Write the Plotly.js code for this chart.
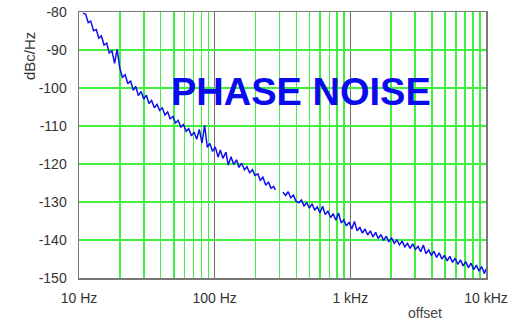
<!DOCTYPE html>
<html>
<head>
<meta charset="utf-8">
<script src="https://cdn.plot.ly/plotly-3.0.1.min.js"></script>
<style>html,body{margin:0;padding:0;background:#fff;}#chart{width:509px;height:322px;}</style>
</head>
<body>
<div id="chart"></div>
<script>
// Offset frequency (Hz); null marks the gap in the trace
const freqHz = [
  10.7, 11.2, 11.7, 12.2, 12.8, 13.4, 14.0, 14.6, 15.3, 16.0, 16.7, 17.5, 18.3, 19.1, 20.0, 20.9, 21.9, 22.9, 24.0, 25.1,
  26.2, 27.4, 28.7, 30.0, 31.4, 32.8, 34.3, 35.9, 37.6, 39.3, 41.1, 43.0, 45.0, 47.0, 49.2, 51.5, 53.8, 56.3, 58.9, 61.6,
  64.4, 67.4, 70.5, 73.7, 77.1, 80.6, 84.3, 88.2, 92.2, 96.5, 101, 106, 110, 115, 121, 126, 132, 138, 145, 151,
  158, 166, 173, 181, 190, 198, 208, 217, 227, 238, 249, 260, 272, 280,
  300,
  318, 333, 348, 364, 381, 398, 417, 436, 456, 477, 499, 522, 546, 571, 597, 625, 653, 683, 715, 748,
  782, 818, 856, 895, 936, 980, 1025, 1072, 1121, 1173, 1227, 1283, 1342, 1404, 1469, 1536, 1607, 1681, 1758, 1839,
  1924, 2012, 2105, 2202, 2303, 2409, 2520, 2636, 2757, 2884, 3017, 3156, 3301, 3453, 3612, 3778, 3952, 4134, 4324, 4523,
  4731, 4949, 5177, 5415, 5664, 5925, 6198, 6483, 6781, 7093, 7420, 7761, 8118, 8492, 8883, 9292, 9720, 10000
];
// Phase noise (dBc/Hz)
const noiseDb = [
  -80.3, -80.6, -82.8, -82.4, -84.9, -84.6, -86.9, -86.3, -88.7, -88.2, -90.8, -90.2, -93.5, -89.8, -94.8, -97.2, -96.5, -98.9, -98.1, -100.6,
  -99.6, -102.0, -100.9, -102.9, -101.9, -104.1, -103.3, -105.2, -104.3, -105.9, -105.2, -107.1, -106.3, -108.1, -107.5, -109.2, -108.5, -110.3, -109.6, -111.4,
  -110.7, -112.6, -111.6, -113.5, -110.9, -114.5, -109.8, -115.6, -114.6, -116.7, -115.5, -118.2, -116.3, -118.5, -116.9, -120.3, -118.1, -120.1, -118.9, -120.9,
  -119.8, -121.5, -120.7, -122.3, -121.5, -123.0, -122.6, -124.3, -123.5, -125.6, -124.7, -126.4, -125.9, -126.8,
  null,
  -127.4, -128.3, -127.3, -128.9, -128.2, -129.8, -130.2, -129.5, -131.0, -130.2, -131.6, -130.5, -132.1, -131.3, -132.9, -131.1, -133.3, -132.4, -134.1, -133.1,
  -134.8, -132.9, -135.5, -134.7, -136.3, -135.3, -137.1, -135.1, -137.6, -136.6, -138.2, -137.1, -138.7, -137.6, -139.2, -138.0, -139.6, -138.6, -140.1, -139.0,
  -140.5, -139.4, -140.9, -140.0, -141.3, -140.3, -141.8, -140.9, -142.2, -141.0, -142.5, -141.7, -143.1, -141.3, -143.6, -142.6, -144.0, -143.0, -144.6, -143.4,
  -145.0, -144.0, -145.5, -144.3, -145.9, -144.8, -146.4, -145.2, -146.8, -145.7, -147.3, -146.1, -147.8, -146.6, -148.2, -147.0, -148.8, -147.6
];
const decadeTicks = [10, 100, 1000, 10000];
const decadeLabels = ['10 Hz', '100 Hz', '1 kHz', '10 kHz'];
const minorTicks = [20, 30, 40, 50, 60, 70, 80, 90, 200, 300, 400, 500, 600, 700, 800, 900,
                    2000, 3000, 4000, 5000, 6000, 7000, 8000, 9000];
const yTicks = [-150, -140, -130, -120, -110, -100, -90, -80];
const yLabels = ['-150', '-140', '-130', '-120', '-110', '-100', '-90', '-80'];

const trace = {
  x: freqHz, y: noiseDb, type: 'scatter', mode: 'lines',
  connectgaps: false,
  line: {color: '#1010ee', width: 1.5},
  hoverinfo: 'skip'
};

const font = 'Liberation Sans, Arial, sans-serif';
const layout = {
  width: 509, height: 322,
  margin: {l: 79, r: 23, t: 12, b: 44},
  paper_bgcolor: '#ffffff', plot_bgcolor: '#ffffff',
  showlegend: false,
  font: {family: font, size: 14, color: '#333'},
  xaxis: {
    type: 'log', range: [1, 4],
    tickmode: 'array', tickvals: decadeTicks, ticktext: decadeLabels,
    showgrid: true, gridcolor: '#707070', gridwidth: 1.6,
    minor: {tickmode: 'array', tickvals: minorTicks, showgrid: true, gridcolor: '#3ff03f', gridwidth: 1.6, ticks: ''},
    ticks: '', ticklabelstandoff: 7,
    showline: true, mirror: true, linecolor: '#777777', linewidth: 1.5,
    zeroline: false, tickfont: {family: font, size: 14, color: '#333'}
  },
  yaxis: {
    range: [-150, -80],
    tickmode: 'array', tickvals: yTicks, ticktext: yLabels,
    showgrid: true, gridcolor: '#3ff03f', gridwidth: 1.6,
    ticks: '', ticklabelstandoff: 8,
    showline: true, mirror: true, linecolor: '#777777', linewidth: 1.5,
    zeroline: false, tickfont: {family: font, size: 14, color: '#333'}
  },
  annotations: [
    {text: 'PHASE NOISE', xref: 'paper', yref: 'paper', x: 0.545, y: 0.70,
     xanchor: 'center', yanchor: 'middle', showarrow: false,
     font: {family: font, size: 38, color: '#0a0aee', weight: 'bold'}},
    {text: 'dBc/Hz', xref: 'paper', yref: 'paper', x: (29 - 79) / 407, y: (278 - 56) / 266,
     xanchor: 'center', yanchor: 'middle', textangle: -90, showarrow: false,
     font: {family: font, size: 15, color: '#333'}},
    {text: 'offset', xref: 'paper', yref: 'paper', x: (425 - 79) / 407, y: (278 - 313) / 266,
     xanchor: 'center', yanchor: 'middle', showarrow: false,
     font: {family: font, size: 14, color: '#444'}}
  ]
};

Plotly.newPlot('chart', [trace], layout, {staticPlot: true, displayModeBar: false});
</script>
</body>
</html>
